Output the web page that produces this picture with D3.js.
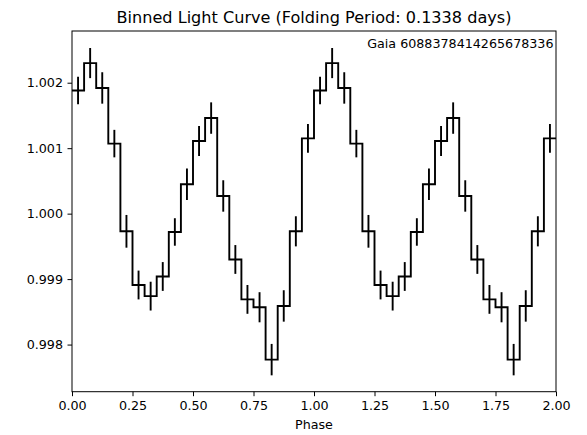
<!DOCTYPE html>
<html>
<head>
<meta charset="utf-8">
<script src="https://cdn.jsdelivr.net/npm/d3@7"></script>
<style>
  html, body { margin: 0; padding: 0; background: #fff; }
  svg { display: block; }
  text { font-family: "DejaVu Sans", sans-serif; fill: #000; }
</style>
</head>
<body>
<svg id="chart" width="587" height="435"></svg>
<script>
// Phase-binned flux, one cycle (bin centres, width 0.05)
const binPhase = [0.025, 0.075, 0.125, 0.175, 0.225, 0.275, 0.325, 0.375, 0.425, 0.475,
                  0.525, 0.575, 0.625, 0.675, 0.725, 0.775, 0.825, 0.875, 0.925, 0.975];
const binFlux = [1.00188, 1.00230, 1.00192, 1.00107, 0.99973, 0.99891, 0.99874, 0.99904, 0.99972, 1.00045,
                 1.00111, 1.00146, 1.00027, 0.99930, 0.99869, 0.99857, 0.99777, 0.99859, 0.99973, 1.00115];
const binErr = [0.00021, 0.00023, 0.00024, 0.00021, 0.00025, 0.00022, 0.00022, 0.00022, 0.00021, 0.00024,
                0.00023, 0.00024, 0.00024, 0.00022, 0.00022, 0.00023, 0.00024, 0.00024, 0.00023, 0.00022];
const binWidth = 0.05;
const cycles = [0, 1];               // curve is shown over two phase cycles
const xTicks = [0, 0.25, 0.5, 0.75, 1.0, 1.25, 1.5, 1.75, 2.0];
const yTicks = [0.998, 0.999, 1.000, 1.001, 1.002];
const titleText = "Binned Light Curve (Folding Period: 0.1338 days)";
const sourceLabel = "Gaia 6088378414265678336";

// Repeat the folded bins for each cycle
const points = [];
cycles.forEach(c => binPhase.forEach((p, i) => {
  points.push({ phase: p + c, flux: binFlux[i], err: binErr[i] });
}));

const svg = d3.select("#chart");
const box = { left: 72, right: 556, top: 31, bottom: 391.7 };
const x = d3.scaleLinear().domain([0, 2]).range([box.left, box.right]);
const y = d3.scaleLinear().domain([0.99728, 1.00279]).range([box.bottom, box.top]);

const fontSize = 12.7;
const lw = 1.9;

// Step line across bin edges
const stepPts = points.map(d => [d.phase - binWidth / 2, d.flux]);
stepPts.push([points[points.length - 1].phase + binWidth / 2, points[points.length - 1].flux]);
const stepLine = d3.line().x(d => x(d[0])).y(d => y(d[1])).curve(d3.curveStepAfter);

const plot = svg.append("g");
plot.append("path")
  .attr("d", stepLine(stepPts))
  .attr("fill", "none")
  .attr("stroke", "#000")
  .attr("stroke-width", lw)
  .attr("stroke-linejoin", "miter");

// Error bars at bin centres
plot.selectAll("line.err").data(points).enter().append("line")
  .attr("class", "err")
  .attr("x1", d => x(d.phase)).attr("x2", d => x(d.phase))
  .attr("y1", d => y(d.flux - d.err)).attr("y2", d => y(d.flux + d.err))
  .attr("stroke", "#000").attr("stroke-width", lw);

// Axes
const xAxis = d3.axisBottom(x).tickValues(xTicks).tickFormat(d3.format(".2f"))
  .tickSize(4.5).tickPadding(4.5);
const yAxis = d3.axisLeft(y).tickValues(yTicks).tickFormat(d3.format(".3f"))
  .tickSize(4.5).tickPadding(4.5);

const gx = svg.append("g").attr("transform", `translate(0,${box.bottom})`).call(xAxis);
const gy = svg.append("g").attr("transform", `translate(${box.left},0)`).call(yAxis);
[gx, gy].forEach(g => {
  g.select(".domain").remove();
  g.selectAll(".tick line").attr("stroke", "#000").attr("stroke-width", 1);
  g.selectAll(".tick text")
    .style("font-family", "'DejaVu Sans', sans-serif")
    .style("font-size", fontSize + "px")
    .attr("fill", "#000");
});

// Frame
svg.append("rect")
  .attr("x", box.left).attr("y", box.top)
  .attr("width", box.right - box.left).attr("height", box.bottom - box.top)
  .attr("fill", "none").attr("stroke", "#000").attr("stroke-width", 1);

// Labels
svg.append("text")
  .attr("x", (box.left + box.right) / 2).attr("y", 22.7)
  .attr("text-anchor", "middle")
  .style("font-size", "16.1px")
  .text(titleText);

svg.append("text")
  .attr("x", (box.left + box.right) / 2).attr("y", 429.3)
  .attr("text-anchor", "middle")
  .style("font-size", fontSize + "px")
  .text("Phase");

svg.append("text")
  .attr("x", box.right - 2.5).attr("y", 48.3)
  .attr("text-anchor", "end")
  .style("font-size", fontSize + "px")
  .text(sourceLabel);
</script>
</body>
</html>
